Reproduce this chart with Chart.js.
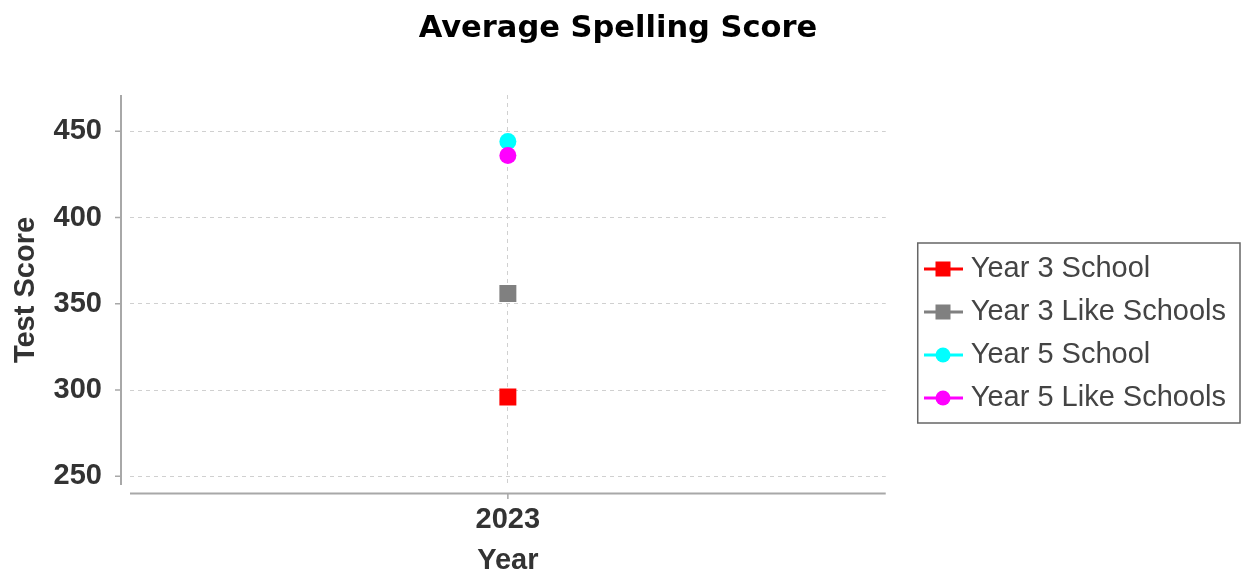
<!DOCTYPE html>
<html><head><meta charset="utf-8">
<script src="https://cdn.jsdelivr.net/npm/chart.js@4.4.1/dist/chart.umd.min.js"></script>
<style>html,body{margin:0;padding:0;background:#fff;}</style>
</head><body>
<canvas id="c" width="1250" height="575"></canvas>
<script>
const categories = ['2023'];
const seriesNames = ['Year 3 School', 'Year 3 Like Schools', 'Year 5 School', 'Year 5 Like Schools'];
const year3School = [296];
const year3Like = [356];
const year5School = [444];
const year5Like = [436];
const yTicks = [250, 300, 350, 400, 450];
const yMin = 245, yMax = 471;
const colors = ['#ff0000', '#808080', '#00ffff', '#ff00ff'];
const shapes = ['rect', 'rect', 'circle', 'circle'];

function legendIcon(color, shape) {
  const c = document.createElement('canvas');
  c.width = 70; c.height = 20;
  const g = c.getContext('2d');
  g.strokeStyle = color; g.lineWidth = 3;
  g.beginPath(); g.moveTo(31, 10); g.lineTo(70, 10); g.stroke();
  g.fillStyle = color;
  if (shape === 'rect') g.fillRect(50 - 7.5, 10 - 7.5, 15, 15);
  else { g.beginPath(); g.arc(50, 10, 7.5, 0, Math.PI * 2); g.fill(); }
  return c;
}
const icons = colors.map((c, i) => legendIcon(c, shapes[i]));

const axisPlugin = {
  id: 'jfAxes',
  afterDraw(chart) {
    const {ctx, chartArea: a, scales: {x, y}} = chart;
    ctx.save();
    ctx.strokeStyle = '#a8a8a8'; ctx.lineWidth = 2;
    ctx.beginPath();
    ctx.moveTo(a.left - 9, a.top); ctx.lineTo(a.left - 9, a.bottom);
    ctx.moveTo(a.left, a.bottom + 8.5); ctx.lineTo(a.right, a.bottom + 8.5);
    ctx.stroke();
    ctx.lineWidth = 1.5;
    ctx.beginPath();
    y.ticks.forEach(t => { const py = y.getPixelForValue(t.value); ctx.moveTo(a.left - 15, py); ctx.lineTo(a.left - 9, py); });
    x.ticks.forEach((t, i) => { const px = x.getPixelForTick(i); ctx.moveTo(px, a.bottom + 8.5); ctx.lineTo(px, a.bottom + 14); });
    ctx.stroke();
    const lg = chart.legend;
    if (lg && lg.legendHitBoxes && lg.legendHitBoxes.length) {
      const hb = lg.legendHitBoxes;
      const l = hb[0].left + 18;
      const t = hb[0].top - 11.5;
      const r = Math.max(...hb.map(h => h.left + h.width)) + 14;
      const b = hb[hb.length - 1].top + hb[hb.length - 1].height + 10.5;
      ctx.strokeStyle = '#666'; ctx.lineWidth = 1.5;
      ctx.strokeRect(l, t, r - l, b - t);
    }
    ctx.restore();
  }
};

const seriesData = [year3School, year3Like, year5School, year5Like];
const datasets = seriesData.map((d, i) => ({
  label: seriesNames[i],
  data: d,
  borderColor: colors[i],
  backgroundColor: colors[i],
  pointStyle: shapes[i],
  pointRadius: shapes[i] === 'rect' ? 12 : 8.5,
  pointHoverRadius: shapes[i] === 'rect' ? 12 : 8.5,
  pointBorderWidth: 0,
  borderWidth: 3,
  showLine: false,
  order: i === 3 ? -1 : i
}));

const tickFont = {family: 'Liberation Sans', size: 29, weight: 'bold'};

new Chart(document.getElementById('c'), {
  type: 'line',
  data: {labels: categories, datasets},
  plugins: [axisPlugin],
  options: {
    responsive: false,
    animation: false,
    layout: {padding: {left: 0, right: 14, top: 0, bottom: 0}},
    plugins: {
      title: {
        display: true, text: 'Average Spelling Score', color: '#000',
        font: {family: 'DejaVu Sans', size: 30.5, weight: 'bold', lineHeight: 1.2},
        padding: {top: 11, bottom: 47.4}
      },
      legend: {
        position: 'right', align: 'center', maxWidth: 420,
        title: {display: true, text: '', font: {size: 12, lineHeight: 1.2}, padding: {top: 38.8, bottom: 38.8}},
        labels: {
          usePointStyle: true, pointStyleWidth: 56.5, padding: 14, color: '#444',
          font: {family: 'Liberation Sans', size: 29},
          generateLabels(chart) {
            return chart.data.datasets.map((ds, i) => ({
              text: ds.label, pointStyle: icons[i], fillStyle: ds.backgroundColor,
              strokeStyle: ds.borderColor, lineWidth: 0, hidden: !chart.isDatasetVisible(i),
              datasetIndex: i, fontColor: '#444'
            }));
          }
        }
      },
      tooltip: {enabled: false}
    },
    scales: {
      x: {
        type: 'category', offset: true,
        grid: {display: true, color: '#d0d0d0', lineWidth: 1, drawTicks: false, offset: false},
        border: {display: false, dash: [4, 4]},
        ticks: {color: '#333', font: tickFont, padding: 18},
        title: {display: true, text: 'Year', color: '#333', font: {family: 'Liberation Sans', size: 29, weight: 'bold', lineHeight: 1}, padding: {top: 0, bottom: 0}},
        afterFit(s) { s.height = 90; }
      },
      y: {
        min: yMin, max: yMax,
        grid: {color: '#d0d0d0', lineWidth: 1, drawTicks: false},
        border: {display: false, dash: [4, 4]},
        ticks: {color: '#333', font: tickFont, padding: 28},
        afterBuildTicks(s) { s.ticks = yTicks.map(v => ({value: v})); },
        title: {display: true, text: 'Test Score', color: '#333', font: {family: 'Liberation Sans', size: 29, weight: 'bold', lineHeight: 1}, padding: {top: 11.5, bottom: 0}},
        afterFit(s) { s.width = 130; }
      }
    }
  }
});
</script>
</body></html>
